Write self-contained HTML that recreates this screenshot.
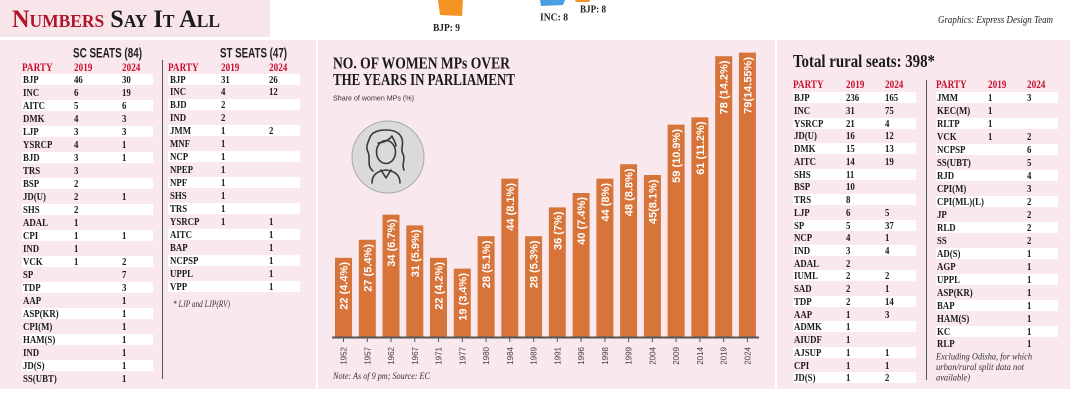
<!DOCTYPE html>
<html><head><meta charset="utf-8">
<style>
*{margin:0;padding:0;box-sizing:border-box}
html,body{width:1074px;height:404px;background:#fff;overflow:hidden}
#pg{position:relative;width:1074px;height:404px;background:#fff}
svg{position:absolute;left:0;top:0}
.tb{position:absolute;top:0;height:404px}
.r{position:absolute;left:0;width:100%;height:11px}
.w{background:#fff}
.r span,.h span{position:absolute;top:0;line-height:11px;white-space:nowrap;font:bold 11px "Liberation Serif",serif;color:#1c1c1c;transform:scaleX(.8);transform-origin:0 50%}
.h{position:absolute;left:0;width:100%;height:11px}
.h span{color:#c8102e;font-size:11.5px}
#sc{left:22px;width:131px} #sc .b{left:52px} #sc .d{left:100px} #sc .a{left:1px}
#st{left:168px;width:132px} #st .b{left:53px} #st .d{left:101px} #st .a{left:2px}
#rl{left:793px;width:123px} #rl .b{left:53px} #rl .d{left:92px} #rl .a{left:1px}
#rr{left:936px;width:122px} #rr .b{left:52px} #rr .d{left:91px} #rr .a{left:1px}
.h .a{left:0 !important}
</style></head><body><div id="pg">
<svg width="1074" height="404" viewBox="0 0 1074 404" xmlns="http://www.w3.org/2000/svg">
<!-- header band -->
<rect x="0" y="0" width="270" height="37" fill="#f8e5ea"/>
<text x="12" y="27" font-family="Liberation Serif,serif" font-weight="bold" font-size="25" style="font-variant:small-caps" textLength="208" lengthAdjust="spacingAndGlyphs" fill="#1a1a1a"><tspan fill="#b0152a">Numbers</tspan> Say It All</text>
<!-- top decorations -->
<polygon points="438,0 463,0 462,16 440,15" fill="#f39323"/>
<polygon points="540,0 565,0 563,5 541,6" fill="#4b9fe0"/>
<polygon points="575,0 590,0 589,2 576,2" fill="#f39323"/>
<text x="433" y="31" font-family="Liberation Serif,serif" font-weight="bold" font-size="10" textLength="27" lengthAdjust="spacingAndGlyphs" fill="#222">BJP: 9</text>
<text x="540" y="20.5" font-family="Liberation Serif,serif" font-weight="bold" font-size="10" textLength="28" lengthAdjust="spacingAndGlyphs" fill="#222">INC: 8</text>
<text x="580" y="12.5" font-family="Liberation Serif,serif" font-weight="bold" font-size="10" textLength="26" lengthAdjust="spacingAndGlyphs" fill="#222">BJP: 8</text>
<text x="938" y="23" font-family="Liberation Serif,serif" font-style="italic" font-size="10" textLength="115" lengthAdjust="spacingAndGlyphs" fill="#222">Graphics: Express Design Team</text>
<!-- panels -->
<rect x="0" y="40" width="316" height="349" fill="#f9e8ed"/>
<rect x="318" y="40" width="457" height="349" fill="#f9e8ed"/>
<rect x="777" y="40" width="293" height="349" fill="#f9e8ed"/>
<!-- left panel titles -->
<text x="73" y="57.5" font-family="Liberation Sans,sans-serif" font-weight="bold" font-size="14" textLength="69" lengthAdjust="spacingAndGlyphs" fill="#1e1e1e">SC SEATS (84)</text>
<text x="220" y="57.5" font-family="Liberation Sans,sans-serif" font-weight="bold" font-size="14" textLength="67" lengthAdjust="spacingAndGlyphs" fill="#1e1e1e">ST SEATS (47)</text>
<line x1="162.5" y1="60" x2="162.5" y2="379" stroke="#555" stroke-width="1"/>
<text x="173" y="307" font-family="Liberation Serif,serif" font-style="italic" font-size="9" textLength="57" lengthAdjust="spacingAndGlyphs" fill="#333">* LJP and LJP(RV)</text>
<!-- chart panel -->
<text x="333" y="68.3" font-family="Liberation Serif,serif" font-weight="bold" font-size="17" textLength="177" lengthAdjust="spacingAndGlyphs" fill="#1a1a1a">NO. OF WOMEN MPs OVER</text>
<text x="333" y="85" font-family="Liberation Serif,serif" font-weight="bold" font-size="17" textLength="182" lengthAdjust="spacingAndGlyphs" fill="#1a1a1a">THE YEARS IN PARLIAMENT</text>
<text x="333" y="100.5" font-family="Liberation Sans,sans-serif" font-size="7.5" textLength="81" lengthAdjust="spacingAndGlyphs" fill="#333">Share of women MPs (%)</text>
<circle cx="388" cy="157" r="36" fill="#dadada" stroke="#a8a8a8" stroke-width="1"/>
<g fill="none" stroke="#3a3a3a" stroke-width="1.6" stroke-linecap="round" stroke-linejoin="round">
<path d="M373,171 C366,165 371,158 368,152 C365,146 369,141 370,137 C373,131 380,130 386,130 C393,130 400,132 402,139 C404,145 400,149 403,154 C406,160 401,164 404,170"/>
<ellipse cx="386" cy="152" rx="9.5" ry="11.5"/>
<path d="M378,143 C384,143 390,139 392,136 C394,141 396,143 396,146"/>
<path d="M372,183 C372,175 377,171 386,170 C395,171 400,175 400,183"/>
<path d="M381,170 L386,178 L391,170"/>
</g>
<g fill="#d7743a">
<rect x="335.0" y="257.8" width="17" height="79.2"/>
<rect x="358.8" y="239.8" width="17" height="97.2"/>
<rect x="382.5" y="214.6" width="17" height="122.4"/>
<rect x="406.3" y="225.4" width="17" height="111.6"/>
<rect x="430.0" y="257.8" width="17" height="79.2"/>
<rect x="453.8" y="268.6" width="17" height="68.4"/>
<rect x="477.6" y="236.2" width="17" height="100.8"/>
<rect x="501.3" y="178.6" width="17" height="158.4"/>
<rect x="525.1" y="236.2" width="17" height="100.8"/>
<rect x="548.8" y="207.4" width="17" height="129.6"/>
<rect x="572.6" y="193.0" width="17" height="144"/>
<rect x="596.4" y="178.6" width="17" height="158.4"/>
<rect x="620.1" y="164.2" width="17" height="172.8"/>
<rect x="643.9" y="175.0" width="17" height="162"/>
<rect x="667.6" y="124.6" width="17" height="212.4"/>
<rect x="691.4" y="117.4" width="17" height="219.6"/>
<rect x="715.2" y="56.2" width="17" height="280.8"/>
<rect x="738.9" y="52.6" width="17" height="284.4"/>
</g>
<g font-family="Liberation Sans,sans-serif" font-weight="bold" font-size="11" fill="#fff" text-anchor="end">
<text transform="translate(343.5,262) rotate(-90)" dy="4">22 (4.4%)</text>
<text transform="translate(367.3,244) rotate(-90)" dy="4">27 (5.4%)</text>
<text transform="translate(391.0,219) rotate(-90)" dy="4">34 (6.7%)</text>
<text transform="translate(414.8,229.5) rotate(-90)" dy="4">31 (5.9%)</text>
<text transform="translate(438.5,262) rotate(-90)" dy="4">22 (4.2%)</text>
<text transform="translate(462.3,273) rotate(-90)" dy="4">19 (3.4%)</text>
<text transform="translate(486.1,240.5) rotate(-90)" dy="4">28 (5.1%)</text>
<text transform="translate(509.8,183) rotate(-90)" dy="4">44 (8.1%)</text>
<text transform="translate(533.6,240.5) rotate(-90)" dy="4">28 (5.3%)</text>
<text transform="translate(557.3,211.5) rotate(-90)" dy="4">36 (7%)</text>
<text transform="translate(581.1,197) rotate(-90)" dy="4">40 (7.4%)</text>
<text transform="translate(604.9,183) rotate(-90)" dy="4">44 (8%)</text>
<text transform="translate(628.6,168.5) rotate(-90)" dy="4">48 (8.8%)</text>
<text transform="translate(652.4,179.5) rotate(-90)" dy="4">45(8.1%)</text>
<text transform="translate(676.1,129) rotate(-90)" dy="4">59 (10.9%)</text>
<text transform="translate(699.9,121.5) rotate(-90)" dy="4">61 (11.2%)</text>
<text transform="translate(723.7,60.5) rotate(-90)" dy="4">78 (14.2%)</text>
<text transform="translate(747.4,57) rotate(-90)" dy="4">79(14.55%)</text>
</g>
<line x1="332" y1="337.5" x2="759" y2="337.5" stroke="#555" stroke-width="2"/>
<g stroke="#555" stroke-width="1">
<line x1="343.5" y1="338" x2="343.5" y2="342"/><line x1="367.3" y1="338" x2="367.3" y2="342"/><line x1="391.0" y1="338" x2="391.0" y2="342"/><line x1="414.8" y1="338" x2="414.8" y2="342"/><line x1="438.5" y1="338" x2="438.5" y2="342"/><line x1="462.3" y1="338" x2="462.3" y2="342"/><line x1="486.1" y1="338" x2="486.1" y2="342"/><line x1="509.8" y1="338" x2="509.8" y2="342"/><line x1="533.6" y1="338" x2="533.6" y2="342"/><line x1="557.3" y1="338" x2="557.3" y2="342"/><line x1="581.1" y1="338" x2="581.1" y2="342"/><line x1="604.9" y1="338" x2="604.9" y2="342"/><line x1="628.6" y1="338" x2="628.6" y2="342"/><line x1="652.4" y1="338" x2="652.4" y2="342"/><line x1="676.1" y1="338" x2="676.1" y2="342"/><line x1="699.9" y1="338" x2="699.9" y2="342"/><line x1="723.7" y1="338" x2="723.7" y2="342"/><line x1="747.4" y1="338" x2="747.4" y2="342"/>
</g>
<g font-family="Liberation Sans,sans-serif" font-size="8" fill="#444" text-anchor="end">
<text transform="translate(343.5,347) rotate(-90)" dy="3">1952</text>
<text transform="translate(367.3,347) rotate(-90)" dy="3">1957</text>
<text transform="translate(391.0,347) rotate(-90)" dy="3">1962</text>
<text transform="translate(414.8,347) rotate(-90)" dy="3">1967</text>
<text transform="translate(438.5,347) rotate(-90)" dy="3">1971</text>
<text transform="translate(462.3,347) rotate(-90)" dy="3">1977</text>
<text transform="translate(486.1,347) rotate(-90)" dy="3">1980</text>
<text transform="translate(509.8,347) rotate(-90)" dy="3">1984</text>
<text transform="translate(533.6,347) rotate(-90)" dy="3">1989</text>
<text transform="translate(557.3,347) rotate(-90)" dy="3">1991</text>
<text transform="translate(581.1,347) rotate(-90)" dy="3">1996</text>
<text transform="translate(604.9,347) rotate(-90)" dy="3">1998</text>
<text transform="translate(628.6,347) rotate(-90)" dy="3">1999</text>
<text transform="translate(652.4,347) rotate(-90)" dy="3">2004</text>
<text transform="translate(676.1,347) rotate(-90)" dy="3">2009</text>
<text transform="translate(699.9,347) rotate(-90)" dy="3">2014</text>
<text transform="translate(723.7,347) rotate(-90)" dy="3">2019</text>
<text transform="translate(747.4,347) rotate(-90)" dy="3">2024</text>
</g>
<text x="333" y="379" font-family="Liberation Serif,serif" font-style="italic" font-size="9" textLength="97" lengthAdjust="spacingAndGlyphs" fill="#333">Note: As of 9 pm; Source: EC</text>
<!-- rural panel -->
<text x="793" y="67" font-family="Liberation Serif,serif" font-weight="bold" font-size="18" textLength="142" lengthAdjust="spacingAndGlyphs" fill="#1a1a1a">Total rural seats: 398*</text>
<line x1="926.5" y1="80" x2="926.5" y2="380" stroke="#555" stroke-width="1"/>
<g font-family="Liberation Serif,serif" font-style="italic" font-size="9.5" fill="#333">
<text x="936" y="359.5" textLength="96" lengthAdjust="spacingAndGlyphs">Excluding Odisha, for which</text>
<text x="936" y="370" textLength="88" lengthAdjust="spacingAndGlyphs">urban/rural split data not</text>
<text x="936" y="380.5" textLength="34" lengthAdjust="spacingAndGlyphs">available)</text>
</g>
</svg>

<div class="tb" id="sc">
<div class="h" style="top:61.5px"><span class="a">PARTY</span><span class="b">2019</span><span class="d">2024</span></div>
<div class="r w" style="top:73.5px"><span class="a">BJP</span><span class="b">46</span><span class="d">30</span></div>
<div class="r" style="top:86.5px"><span class="a">INC</span><span class="b">6</span><span class="d">19</span></div>
<div class="r w" style="top:99.5px"><span class="a">AITC</span><span class="b">5</span><span class="d">6</span></div>
<div class="r" style="top:112.5px"><span class="a">DMK</span><span class="b">4</span><span class="d">3</span></div>
<div class="r w" style="top:125.5px"><span class="a">LJP</span><span class="b">3</span><span class="d">3</span></div>
<div class="r" style="top:138.5px"><span class="a">YSRCP</span><span class="b">4</span><span class="d">1</span></div>
<div class="r w" style="top:151.5px"><span class="a">BJD</span><span class="b">3</span><span class="d">1</span></div>
<div class="r" style="top:164.5px"><span class="a">TRS</span><span class="b">3</span></div>
<div class="r w" style="top:177.5px"><span class="a">BSP</span><span class="b">2</span></div>
<div class="r" style="top:190.5px"><span class="a">JD(U)</span><span class="b">2</span><span class="d">1</span></div>
<div class="r w" style="top:203.5px"><span class="a">SHS</span><span class="b">2</span></div>
<div class="r" style="top:216.5px"><span class="a">ADAL</span><span class="b">1</span></div>
<div class="r w" style="top:229.5px"><span class="a">CPI</span><span class="b">1</span><span class="d">1</span></div>
<div class="r" style="top:242.5px"><span class="a">IND</span><span class="b">1</span></div>
<div class="r w" style="top:255.5px"><span class="a">VCK</span><span class="b">1</span><span class="d">2</span></div>
<div class="r" style="top:268.5px"><span class="a">SP</span><span class="d">7</span></div>
<div class="r w" style="top:281.5px"><span class="a">TDP</span><span class="d">3</span></div>
<div class="r" style="top:294.5px"><span class="a">AAP</span><span class="d">1</span></div>
<div class="r w" style="top:307.5px"><span class="a">ASP(KR)</span><span class="d">1</span></div>
<div class="r" style="top:320.5px"><span class="a">CPI(M)</span><span class="d">1</span></div>
<div class="r w" style="top:333.5px"><span class="a">HAM(S)</span><span class="d">1</span></div>
<div class="r" style="top:346.5px"><span class="a">IND</span><span class="d">1</span></div>
<div class="r w" style="top:359.5px"><span class="a">JD(S)</span><span class="d">1</span></div>
<div class="r" style="top:372.5px"><span class="a">SS(UBT)</span><span class="d">1</span></div>
</div>

<div class="tb" id="st">
<div class="h" style="top:61.5px"><span class="a">PARTY</span><span class="b">2019</span><span class="d">2024</span></div>
<div class="r w" style="top:73.5px"><span class="a">BJP</span><span class="b">31</span><span class="d">26</span></div>
<div class="r" style="top:86.4px"><span class="a">INC</span><span class="b">4</span><span class="d">12</span></div>
<div class="r w" style="top:99.4px"><span class="a">BJD</span><span class="b">2</span></div>
<div class="r" style="top:112.3px"><span class="a">IND</span><span class="b">2</span></div>
<div class="r w" style="top:125.3px"><span class="a">JMM</span><span class="b">1</span><span class="d">2</span></div>
<div class="r" style="top:138.2px"><span class="a">MNF</span><span class="b">1</span></div>
<div class="r w" style="top:151.1px"><span class="a">NCP</span><span class="b">1</span></div>
<div class="r" style="top:164.1px"><span class="a">NPEP</span><span class="b">1</span></div>
<div class="r w" style="top:177px"><span class="a">NPF</span><span class="b">1</span></div>
<div class="r" style="top:190px"><span class="a">SHS</span><span class="b">1</span></div>
<div class="r w" style="top:202.9px"><span class="a">TRS</span><span class="b">1</span></div>
<div class="r" style="top:215.8px"><span class="a">YSRCP</span><span class="b">1</span><span class="d">1</span></div>
<div class="r w" style="top:228.8px"><span class="a">AITC</span><span class="d">1</span></div>
<div class="r" style="top:241.7px"><span class="a">BAP</span><span class="d">1</span></div>
<div class="r w" style="top:254.7px"><span class="a">NCPSP</span><span class="d">1</span></div>
<div class="r" style="top:267.6px"><span class="a">UPPL</span><span class="d">1</span></div>
<div class="r w" style="top:280.5px"><span class="a">VPP</span><span class="d">1</span></div>
</div>

<div class="tb" id="rl">
<div class="h" style="top:78.5px"><span class="a">PARTY</span><span class="b">2019</span><span class="d">2024</span></div>
<div class="r w" style="top:92.2px"><span class="a">BJP</span><span class="b">236</span><span class="d">165</span></div>
<div class="r" style="top:104.9px"><span class="a">INC</span><span class="b">31</span><span class="d">75</span></div>
<div class="r w" style="top:117.7px"><span class="a">YSRCP</span><span class="b">21</span><span class="d">4</span></div>
<div class="r" style="top:130.4px"><span class="a">JD(U)</span><span class="b">16</span><span class="d">12</span></div>
<div class="r w" style="top:143.1px"><span class="a">DMK</span><span class="b">15</span><span class="d">13</span></div>
<div class="r" style="top:155.9px"><span class="a">AITC</span><span class="b">14</span><span class="d">19</span></div>
<div class="r w" style="top:168.6px"><span class="a">SHS</span><span class="b">11</span></div>
<div class="r" style="top:181.3px"><span class="a">BSP</span><span class="b">10</span></div>
<div class="r w" style="top:194px"><span class="a">TRS</span><span class="b">8</span></div>
<div class="r" style="top:206.8px"><span class="a">LJP</span><span class="b">6</span><span class="d">5</span></div>
<div class="r w" style="top:219.5px"><span class="a">SP</span><span class="b">5</span><span class="d">37</span></div>
<div class="r" style="top:232.2px"><span class="a">NCP</span><span class="b">4</span><span class="d">1</span></div>
<div class="r w" style="top:245px"><span class="a">IND</span><span class="b">3</span><span class="d">4</span></div>
<div class="r" style="top:257.7px"><span class="a">ADAL</span><span class="b">2</span></div>
<div class="r w" style="top:270.4px"><span class="a">IUML</span><span class="b">2</span><span class="d">2</span></div>
<div class="r" style="top:283.2px"><span class="a">SAD</span><span class="b">2</span><span class="d">1</span></div>
<div class="r w" style="top:295.9px"><span class="a">TDP</span><span class="b">2</span><span class="d">14</span></div>
<div class="r" style="top:308.6px"><span class="a">AAP</span><span class="b">1</span><span class="d">3</span></div>
<div class="r w" style="top:321.3px"><span class="a">ADMK</span><span class="b">1</span></div>
<div class="r" style="top:334.1px"><span class="a">AIUDF</span><span class="b">1</span></div>
<div class="r w" style="top:346.8px"><span class="a">AJSUP</span><span class="b">1</span><span class="d">1</span></div>
<div class="r" style="top:359.5px"><span class="a">CPI</span><span class="b">1</span><span class="d">1</span></div>
<div class="r w" style="top:372.3px"><span class="a">JD(S)</span><span class="b">1</span><span class="d">2</span></div>
</div>

<div class="tb" id="rr">
<div class="h" style="top:78.5px"><span class="a">PARTY</span><span class="b">2019</span><span class="d">2024</span></div>
<div class="r w" style="top:92.2px"><span class="a">JMM</span><span class="b">1</span><span class="d">3</span></div>
<div class="r" style="top:105.2px"><span class="a">KEC(M)</span><span class="b">1</span></div>
<div class="r w" style="top:118.1px"><span class="a">RLTP</span><span class="b">1</span></div>
<div class="r" style="top:131.1px"><span class="a">VCK</span><span class="b">1</span><span class="d">2</span></div>
<div class="r w" style="top:144px"><span class="a">NCPSP</span><span class="d">6</span></div>
<div class="r" style="top:157px"><span class="a">SS(UBT)</span><span class="d">5</span></div>
<div class="r w" style="top:170px"><span class="a">RJD</span><span class="d">4</span></div>
<div class="r" style="top:182.9px"><span class="a">CPI(M)</span><span class="d">3</span></div>
<div class="r w" style="top:195.9px"><span class="a">CPI(ML)(L)</span><span class="d">2</span></div>
<div class="r" style="top:208.8px"><span class="a">JP</span><span class="d">2</span></div>
<div class="r w" style="top:221.8px"><span class="a">RLD</span><span class="d">2</span></div>
<div class="r" style="top:234.8px"><span class="a">SS</span><span class="d">2</span></div>
<div class="r w" style="top:247.7px"><span class="a">AD(S)</span><span class="d">1</span></div>
<div class="r" style="top:260.7px"><span class="a">AGP</span><span class="d">1</span></div>
<div class="r w" style="top:273.6px"><span class="a">UPPL</span><span class="d">1</span></div>
<div class="r" style="top:286.6px"><span class="a">ASP(KR)</span><span class="d">1</span></div>
<div class="r w" style="top:299.6px"><span class="a">BAP</span><span class="d">1</span></div>
<div class="r" style="top:312.5px"><span class="a">HAM(S)</span><span class="d">1</span></div>
<div class="r w" style="top:325.5px"><span class="a">KC</span><span class="d">1</span></div>
<div class="r" style="top:338.4px"><span class="a">RLP</span><span class="d">1</span></div>
</div>
</div></body></html>
